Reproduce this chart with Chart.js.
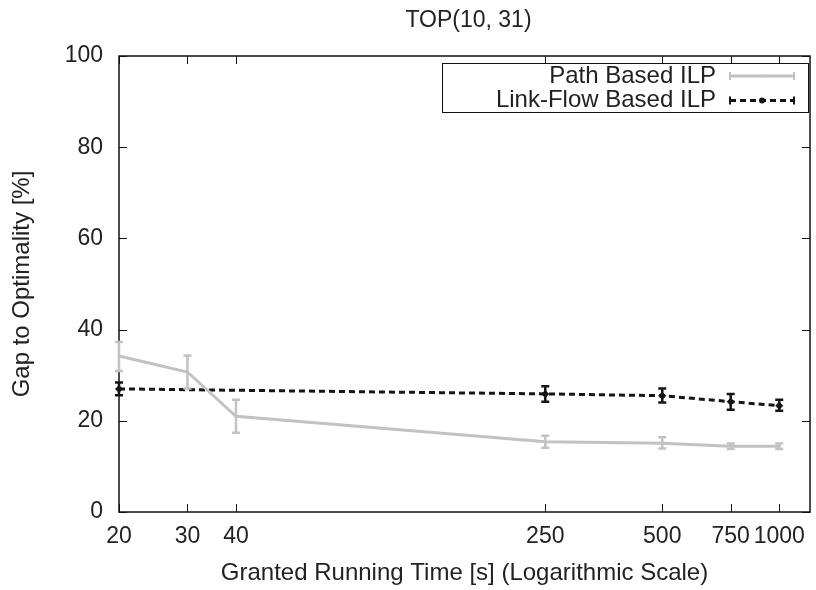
<!DOCTYPE html>
<html>
<head>
<meta charset="utf-8">
<script src="https://cdn.jsdelivr.net/npm/chart.js@4.4.0/dist/chart.umd.min.js"></script>
<style>
  html, body { margin: 0; padding: 0; background: #fff; }
  #wrap { width: 816px; height: 590px; }
</style>
</head>
<body>
<div id="wrap"><canvas id="chart" width="816" height="590"></canvas></div>
<script>
// granted running time [s] and gap to optimality [%]
const times = [20, 30, 40, 250, 500, 750, 1000]
const pathGap = [34.2, 30.7, 21.0, 15.4, 15.1, 14.4, 14.4]
const pathLow = [30.9, 27.1, 17.4, 14.1, 13.9, 13.8, 13.8]
const pathHigh = [37.3, 34.3, 24.6, 16.7, 16.4, 15.0, 15.0]

const linkTimes = [20, 250, 500, 750, 1000]
const linkGap = [27.0, 25.9, 25.5, 24.2, 23.3]
const linkLow = [25.6, 24.2, 24.0, 22.4, 22.2]
const linkHigh = [28.4, 27.6, 27.1, 25.9, 24.6]

const xTicks = [20, 30, 40, 250, 500, 750, 1000]
const yTicks = [0, 20, 40, 60, 80, 100]

const FONT = 'Liberation Sans, Arial, Helvetica, sans-serif'
const TEXT = '#222'
const GREY = '#c2c2c4'
const BLACK = '#151515'

const toPoints = (xs, ys) => xs.map((x, i) => ({ x: x, y: ys[i] }))

// frame with inward ticks on all four sides
const frame = {
  id: 'frame',
  beforeDatasetsDraw(chart) {
    const { ctx, chartArea: a, scales } = chart
    ctx.save()
    ctx.strokeStyle = '#111'
    ctx.lineWidth = 1.5
    ctx.strokeRect(a.left, a.top, a.right - a.left, a.bottom - a.top)
    ctx.lineWidth = 1
    ctx.beginPath()
    xTicks.forEach(v => {
      const px = Math.round(scales.x.getPixelForValue(v)) + 0.5
      ctx.moveTo(px, a.bottom); ctx.lineTo(px, a.bottom - 8)
      ctx.moveTo(px, a.top); ctx.lineTo(px, a.top + 8)
    })
    yTicks.forEach(v => {
      const py = Math.round(scales.y.getPixelForValue(v)) + 0.5
      ctx.moveTo(a.left, py); ctx.lineTo(a.left + 8, py)
      ctx.moveTo(a.right, py); ctx.lineTo(a.right - 8, py)
    })
    ctx.stroke()
    ctx.restore()
  }
}

const errorBars = {
  id: 'errorBars',
  afterDatasetsDraw(chart) {
    const { ctx, scales } = chart
    ctx.save()
    chart.data.datasets.forEach(ds => {
      ctx.strokeStyle = ds.borderColor
      ctx.lineWidth = 2.5
      ctx.setLineDash([])
      ds.data.forEach((p, i) => {
        const px = scales.x.getPixelForValue(p.x)
        const lo = scales.y.getPixelForValue(ds.errLow[i])
        const hi = scales.y.getPixelForValue(ds.errHigh[i])
        ctx.beginPath()
        ctx.moveTo(px, lo); ctx.lineTo(px, hi)
        ctx.moveTo(px - 4, lo); ctx.lineTo(px + 4, lo)
        ctx.moveTo(px - 4, hi); ctx.lineTo(px + 4, hi)
        ctx.stroke()
      })
    })
    ctx.restore()
  }
}

const titleAndKey = {
  id: 'titleAndKey',
  afterDraw(chart) {
    const { ctx, chartArea: a } = chart
    ctx.save()
    ctx.fillStyle = TEXT
    ctx.font = '23px ' + FONT
    ctx.textAlign = 'center'
    ctx.textBaseline = 'middle'
    ctx.fillText('TOP(10, 31)', (a.left + a.right) / 2 + 4, 21)

    // key box
    ctx.font = '24px ' + FONT
    ctx.strokeStyle = '#111'
    ctx.lineWidth = 1
    ctx.strokeRect(442.5, 63.5, 366, 49)
    ctx.textAlign = 'right'
    chart.data.datasets.forEach((ds, i) => {
      const y = 76 + i * 24.5
      ctx.fillStyle = TEXT
      ctx.fillText(ds.label, 716, y)
      ctx.strokeStyle = ds.borderColor
      ctx.lineWidth = ds.borderWidth
      ctx.setLineDash(ds.borderDash || [])
      ctx.beginPath()
      ctx.moveTo(730, y); ctx.lineTo(794, y)
      ctx.stroke()
      ctx.setLineDash([])
      ctx.lineWidth = 2
      ctx.beginPath()
      ctx.moveTo(730, y - 4); ctx.lineTo(730, y + 4)
      ctx.moveTo(794, y - 4); ctx.lineTo(794, y + 4)
      ctx.stroke()
      ctx.fillStyle = ds.borderColor
      ctx.beginPath()
      ctx.arc(762, y, i === 0 ? 1.5 : 3, 0, Math.PI * 2)
      ctx.fill()
    })
    ctx.restore()
  }
}

new Chart(document.getElementById('chart'), {
  type: 'line',
  data: {
    datasets: [
      {
        label: 'Path Based ILP',
        data: toPoints(times, pathGap),
        errLow: pathLow,
        errHigh: pathHigh,
        borderColor: GREY,
        backgroundColor: GREY,
        borderWidth: 3,
        pointRadius: 1.5,
        pointBorderWidth: 0,
        tension: 0,
        clip: false
      },
      {
        label: 'Link-Flow Based ILP',
        data: toPoints(linkTimes, linkGap),
        errLow: linkLow,
        errHigh: linkHigh,
        borderColor: BLACK,
        backgroundColor: BLACK,
        borderWidth: 3,
        borderDash: [6, 4],
        pointStyle: 'rectRot',
        pointRadius: 4,
        pointBorderWidth: 0,
        tension: 0,
        clip: false
      }
    ]
  },
  options: {
    responsive: false,
    animation: false,
    layout: { padding: { top: 56, right: 1, left: 0, bottom: 0 } },
    plugins: { legend: { display: false }, title: { display: false }, tooltip: { enabled: false } },
    scales: {
      x: {
        type: 'logarithmic',
        min: 20,
        max: 1200,
        afterBuildTicks: s => { s.ticks = xTicks.map(v => ({ value: v })) },
        afterFit: s => { s.height = 78 },
        grid: { display: false, drawTicks: false },
        border: { display: false },
        ticks: {
          autoSkip: false, maxRotation: 0, padding: 11, color: TEXT,
          font: { family: FONT, size: 23 },
          callback: v => String(v)
        },
        title: {
          display: true, text: 'Granted Running Time [s] (Logarithmic Scale)', color: TEXT,
          font: { family: FONT, size: 24 }, padding: { top: 0, bottom: 2 }
        }
      },
      y: {
        min: 0,
        max: 100,
        afterBuildTicks: s => { s.ticks = yTicks.map(v => ({ value: v })) },
        afterFit: s => { s.width = 119 },
        grid: { display: false, drawTicks: false },
        border: { display: false },
        ticks: { padding: 16, color: TEXT, font: { family: FONT, size: 23 } },
        title: {
          display: true, text: 'Gap to Optimality [%]', color: TEXT,
          font: { family: FONT, size: 24 }, padding: { top: 8, bottom: 0 }
        }
      }
    }
  },
  plugins: [frame, errorBars, titleAndKey]
})
</script>
</body>
</html>
